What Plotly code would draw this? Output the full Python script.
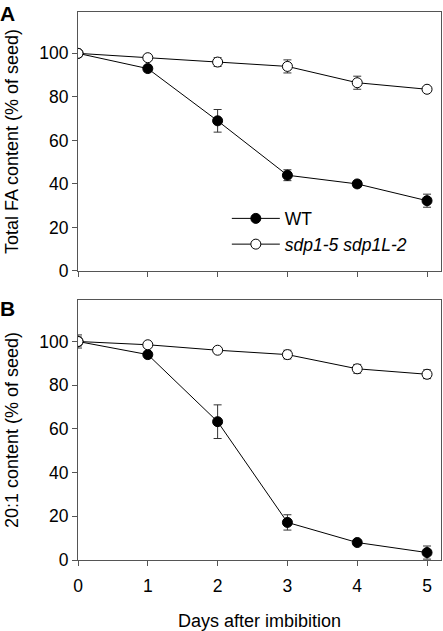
import plotly.graph_objects as go

days = [0, 1, 2, 3, 4, 5]

# Panel A: total FA content (% of seed)
fa_wt = [100, 93, 69, 44, 40, 32.3]
fa_wt_err = [1.5, 1.5, 5.2, 2.5, 1.5, 3]
fa_mut = [100, 98, 96, 94, 86.5, 83.5]
fa_mut_err = [1.5, 0.5, 2, 3, 3, 1]

# Panel B: 20:1 content (% of seed)
e_wt = [100, 94, 63.3, 17.2, 8, 3.4]
e_wt_err = [2, 1, 7.7, 3.5, 1, 3]
e_mut = [100, 98.5, 96, 94, 87.5, 85]
e_mut_err = [3, 0.5, 0.5, 2, 2, 2]

y_ticks = [0, 20, 40, 60, 80, 100]
x_ticks = [0, 1, 2, 3, 4, 5]

names = ["WT", "<i>sdp1-5 sdp1L-2</i>"]
FONT = "Arial, Liberation Sans, sans-serif"
AX = "#555555"

fig = go.Figure()


def add(x, y, err, fill, name, xa, ya, show):
    fig.add_trace(go.Scatter(
        x=x, y=y, mode="lines+markers", name=name, showlegend=show,
        xaxis=xa, yaxis=ya,
        line=dict(color="black", width=1),
        marker=dict(size=10, color=fill, line=dict(color="black", width=1)),
        error_y=dict(type="data", array=err, visible=True, color="#333333",
                     thickness=1, width=4),
    ))


add(days, fa_wt, fa_wt_err, "black", names[0], "x", "y", True)
add(days, fa_mut, fa_mut_err, "white", names[1], "x", "y", True)
add(days, e_wt, e_wt_err, "black", names[0], "x2", "y2", False)
add(days, e_mut, e_mut_err, "white", names[1], "x2", "y2", False)

axis_common = dict(
    showline=True, linecolor=AX, linewidth=1, mirror=True,
    ticks="outside", ticklen=5, tickcolor=AX, tickwidth=1,
    showgrid=False, zeroline=False, automargin=False,
    tickfont=dict(family=FONT, size=17.5, color="black"),
)

fig.update_layout(
    width=443, height=631,
    margin=dict(l=78, r=2, t=12, b=71, autoexpand=False),
    paper_bgcolor="white", plot_bgcolor="white",
    font=dict(family=FONT, size=17.5, color="black"),
    xaxis=dict(domain=[0, 1], range=[0, 5.2], tickvals=x_ticks,
               showticklabels=False, anchor="y", **axis_common),
    yaxis=dict(domain=[0.5274, 1], range=[0, 119], tickvals=y_ticks,
               anchor="x",
               title=dict(text="Total FA content (% of seed)",
                          font=dict(family=FONT, size=18), standoff=15),
               **axis_common),
    xaxis2=dict(domain=[0, 1], range=[0, 5.2], tickvals=x_ticks,
                anchor="y2", ticklabelstandoff=5,
                title=dict(text="Days after imbibition",
                           font=dict(family=FONT, size=18), standoff=20),
                **axis_common),
    yaxis2=dict(domain=[0, 0.4745], range=[0, 119], tickvals=y_ticks,
                anchor="x2",
                title=dict(text="20:1 content (% of seed)",
                           font=dict(family=FONT, size=18), standoff=15),
                **axis_common),
    legend=dict(x=0.41, y=0.656, xanchor="left", yanchor="top",
                bgcolor="rgba(0,0,0,0)", font=dict(family=FONT, size=17.5),
                itemwidth=48, tracegroupgap=0),
    annotations=[
        dict(text="<b>A</b>", xref="paper", yref="paper", x=-0.22, y=1.021,
             xanchor="left", yanchor="top", showarrow=False,
             font=dict(family=FONT, size=21, color="black")),
        dict(text="<b>B</b>", xref="paper", yref="paper", x=-0.22, y=0.483,
             xanchor="left", yanchor="top", showarrow=False,
             font=dict(family=FONT, size=21, color="black")),
    ],
)

fig.write_html("out.html", config={"displayModeBar": False},
               post_script="document.body.style.margin='0px';")
